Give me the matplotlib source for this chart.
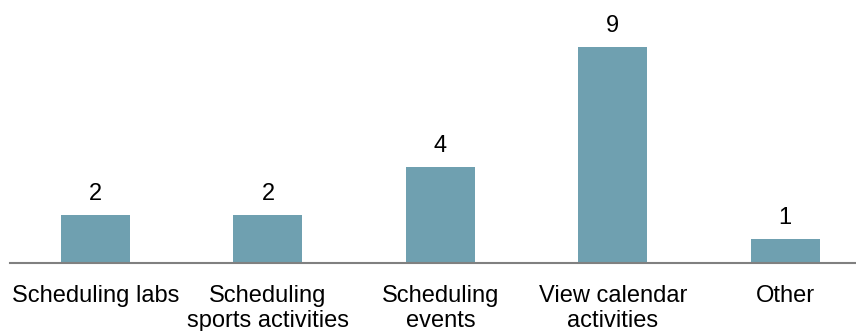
import matplotlib
matplotlib.use("Agg")
import matplotlib.pyplot as plt

# categorias e contagens
categorias = [
    "Scheduling labs",
    "Scheduling\nsports activities",
    "Scheduling\nevents",
    "View calendar\nactivities",
    "Other",
]
contagens = [2, 2, 4, 9, 1]

plt.rcParams['font.family'] = ['Liberation Sans', 'DejaVu Sans']

fig = plt.figure(figsize=(8.56, 3.31), dpi=100)
ax = fig.add_axes([10 / 856, 68 / 331, 846 / 856, 252 / 331])

x = range(len(categorias))
barras = ax.bar(x, contagens, width=0.40, color='#6FA0B0')

for xi, v in zip(x, contagens):
    ax.annotate(str(v), (xi, v), xytext=(0, 7.5), textcoords='offset points',
                ha='center', va='bottom', fontsize=17, color='black')

ax.set_xlim(-0.496, 4.41)
ax.set_ylim(0, 10.5)
ax.set_xticks(list(x))
ax.set_xticklabels(categorias, fontsize=17, linespacing=1.15)
ax.tick_params(axis='x', length=0, pad=16)
ax.set_yticks([])
for lado in ['top', 'right', 'left']:
    ax.spines[lado].set_visible(False)
ax.spines['bottom'].set_color('#808080')
ax.spines['bottom'].set_linewidth(1.5)

fig.savefig('out.png', dpi=100)
